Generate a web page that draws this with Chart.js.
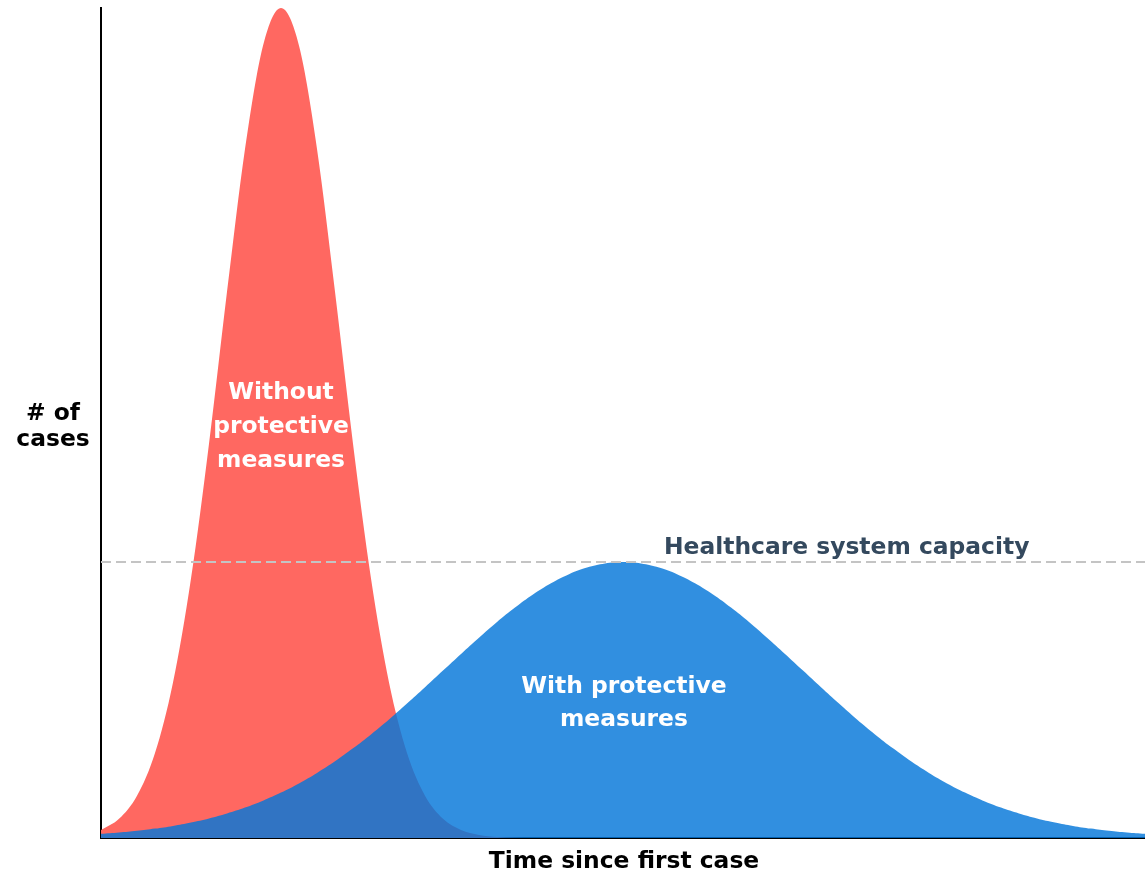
<!DOCTYPE html>
<html>
<head>
<meta charset="utf-8">
<style>
  html, body { margin: 0; padding: 0; background: #ffffff; }
  #c { display: block; }
</style>
<script src="https://cdn.jsdelivr.net/npm/chart.js@4.4.1/dist/chart.umd.min.js"></script>
</head>
<body>
<canvas id="c" width="1145" height="872"></canvas>
<script>
// ---- data ----
const days = [0,2,4,6,8,10,12,14,16,18,20,22,24,26,28,30,32,34,36,38,40,42,44,46,48,
  50,52,54,56,58,60,62,64,66,68,70,72,74,76,78,80,82,84,86,88,90,92,94,96,98,
  100,102,104,106,108,110,112,114,116];

const withoutMeasures = [0.96,2.31,5.09,10.24,18.74,31.26,47.51,65.80,83.02,95.46,
  100,95.46,83.02,65.80,47.51,31.26,18.74,10.24,5.09,2.31,0.96,0.36,0.12,0.04,0.01,
  0,0,0,0,0,0,0,0,0,0,0,0,0,0,0,0,0,0,0,0,0,0,0,0,0,0,0,0,0,0,0,0,0,0];

const withMeasures = [0.50,0.66,0.87,1.13,1.46,1.87,2.36,2.96,3.67,4.50,5.47,6.58,7.84,
  9.24,10.80,12.48,14.28,16.19,18.16,20.17,22.18,24.14,26.03,27.77,29.34,30.69,31.79,
  32.59,33.08,33.25,33.08,32.59,31.79,30.69,29.34,27.77,26.03,24.14,22.18,20.17,18.16,
  16.19,14.28,12.48,10.80,9.24,7.84,6.58,5.47,4.50,3.67,2.96,2.36,1.87,1.46,1.13,0.87,
  0.66,0.50];

const capacityX = [0, 116];
const capacityY = [33.25, 33.25];

const labels = {
  without: ["Without", "protective", "measures"],
  with: ["With protective", "measures"],
  capacity: "Healthcare system capacity",
  yTitle: ["# of", "cases"],
  xTitle: "Time since first case"
};

const toPoints = (xs, ys) => xs.map((x, i) => ({ x: x, y: ys[i] }));

const FONT = '"DejaVu Sans", "Liberation Sans", sans-serif';

const textPlugin = {
  id: 'textPlugin',
  afterDraw(chart) {
    const ctx = chart.ctx;
    const xs = chart.scales.x;
    ctx.save();
    ctx.textAlign = 'center';
    ctx.textBaseline = 'middle';
    ctx.font = 'bold 23.4px ' + FONT;

    // Without protective measures
    ctx.fillStyle = '#ffffff';
    const wx = xs.getPixelForValue(20);
    [392.5, 426.5, 460.5].forEach((py, i) => ctx.fillText(labels.without[i], wx, py));

    // With protective measures
    const bx = xs.getPixelForValue(58.1);
    [686.5, 719.5].forEach((py, i) => ctx.fillText(labels.with[i], bx, py));

    // Capacity label
    ctx.fillStyle = '#34495e';
    ctx.textAlign = 'left';
    ctx.fillText(labels.capacity, 664, 547.5);

    // Axis titles
    ctx.fillStyle = '#000000';
    ctx.textAlign = 'center';
    ctx.fillText(labels.yTitle[0], 53, 413.5);
    ctx.fillText(labels.yTitle[1], 53, 439.5);
    ctx.fillText(labels.xTitle, 624, 861.5);
    ctx.restore();
  }
};

new Chart(document.getElementById('c'), {
  type: 'line',
  data: {
    datasets: [
      {
        label: 'Capacity',
        data: toPoints(capacityX, capacityY),
        borderColor: '#c4c4c4',
        borderWidth: 2,
        borderDash: [10, 5],
        pointRadius: 0,
        fill: false,
        order: 0
      },
      {
        label: 'With protective measures',
        data: toPoints(days, withMeasures),
        borderWidth: 0,
        borderColor: 'rgba(0,0,0,0)',
        backgroundColor: 'rgba(4,118,217,0.82)',
        pointRadius: 0,
        fill: 'origin',
        tension: 0.4,
        order: 1
      },
      {
        label: 'Without protective measures',
        data: toPoints(days, withoutMeasures),
        borderWidth: 0,
        borderColor: 'rgba(0,0,0,0)',
        backgroundColor: 'rgb(255,104,97)',
        pointRadius: 0,
        fill: 'origin',
        cubicInterpolationMode: 'monotone',
        order: 2
      }
    ]
  },
  options: {
    responsive: false,
    animation: false,
    devicePixelRatio: 1,
    layout: { padding: { left: 101, right: 0, top: 8, bottom: 34 } },
    plugins: {
      legend: { display: false },
      tooltip: { enabled: false },
      title: { display: false }
    },
    scales: {
      x: {
        type: 'linear',
        min: 0,
        max: 116,
        ticks: { display: false },
        grid: { display: false, drawTicks: false },
        border: { display: true, color: '#000000', width: 2 }
      },
      y: {
        type: 'linear',
        min: 0,
        max: 100,
        ticks: { display: false },
        grid: { display: false, drawTicks: false },
        border: { display: true, color: '#000000', width: 2 }
      }
    }
  },
  plugins: [textPlugin]
});
</script>
</body>
</html>
